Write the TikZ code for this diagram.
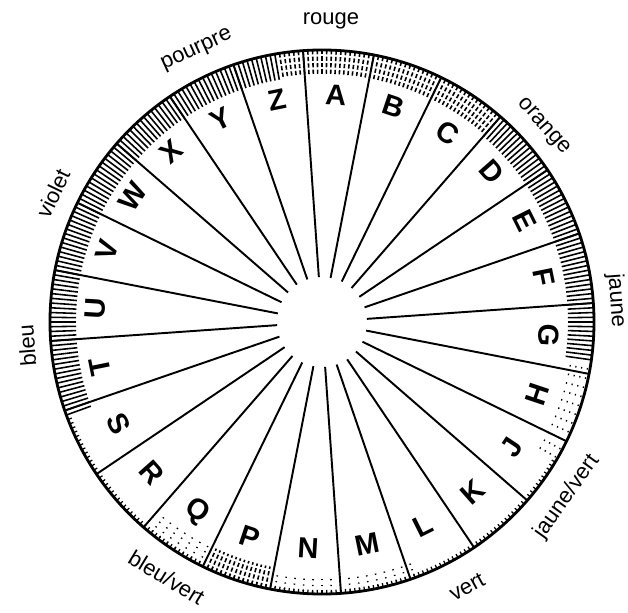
\documentclass[tikz,border=0pt]{standalone}
\usepackage{fontspec}
\setmainfont{Liberation Sans}
\usepackage{tikz}

\tikzset{
  rim/.style={line width=1.6pt},
  spoke/.style={line width=1.1pt},
  solidtick/.style={line width=0.9pt},
  dashtick/.style={line width=0.9pt, dash pattern=on 2.4pt off 1.3pt},
  dottick/.style={line width=0.9pt, dash pattern=on 0.7pt off 2.6pt},
  serration/.style={line width=0.7pt},
  lettre/.style={font=\fontsize{16.5}{16.5}\selectfont\bfseries, inner sep=0pt},
  couleur/.style={font=\fontsize{12.5}{12.5}\selectfont, inner sep=0pt},
}

\begin{document}
\begin{tikzpicture}[x=0.02cm, y=0.02cm]
  \useasboundingbox (-322,-290) rectangle (306,322);

  % graduations
  \foreach \a in {100,...,200} { \draw[solidtick] (\a:272) -- (\a:246); }
  \foreach \a in {50,...,99} { \draw[dashtick] (\a:272) -- (\a:248); }
  \foreach \a in {-8,...,49} { \draw[solidtick] (\a:272) -- (\a:246); }
  \foreach \a in {-30,-28,...,-9} { \draw[dottick] (\a:270) -- (\a:250); }
  \foreach \a in {229,231,...,243} { \draw[dottick] (\a:270) -- (\a:250); }
  \foreach \a in {245,...,258} { \draw[dashtick] (\a:272) -- (\a:250); }
  \foreach \a in {260,262,...,290} { \draw[dottick] (\a:270) -- (\a:254); }
  \foreach \a in {201,...,329} { \draw[serration] (\a:272) -- (\a:268); }

  \draw[rim] (0,0) circle (272);

  % rayons
  \foreach \k in {0,...,23} {
    \draw[spoke] ({94-15*\k}:45) -- ({94-15*\k}:272);
  }

  % lettres
  \foreach \l [count=\i from 0] in {A,B,C,D,E,F,G,H,J,K,L,M,N,P,Q,R,S,T,U,V,W,X,Y,Z} {
    \pgfmathsetmacro{\ang}{86.5-15*\i}
    \pgfmathsetmacro{\rot}{(\i>6 && \i<17) ? \ang+90 : \ang-90}
    \node[lettre, rotate=\rot] (l-\l) at (\ang:227) {\l};
  }

  % couleurs
  \node[couleur] (rouge) at (88.3:301) {rouge};
  \node[couleur, rotate=24.7] (pourpre) at (114.7:299) {pourpre};
  \node[couleur, rotate=64.4] (violet) at (154.4:298) {violet};
  \node[couleur, rotate=94.5] (bleu) at (184.5:296) {bleu};
  \node[couleur, rotate=-31.3] (bleuvert) at (238.7:299) {bleu/vert};
  \node[couleur, rotate=28.7] (vert) at (-61.3:302) {vert};
  \node[couleur, rotate=54.5] (jaunevert) at (-35.5:301) {jaune/vert};
  \node[couleur, rotate=-85.8] (jaune) at (4.2:295) {jaune};
  \node[couleur, rotate=-48.6] (orange) at (41.4:295) {orange};
\end{tikzpicture}
\end{document}
